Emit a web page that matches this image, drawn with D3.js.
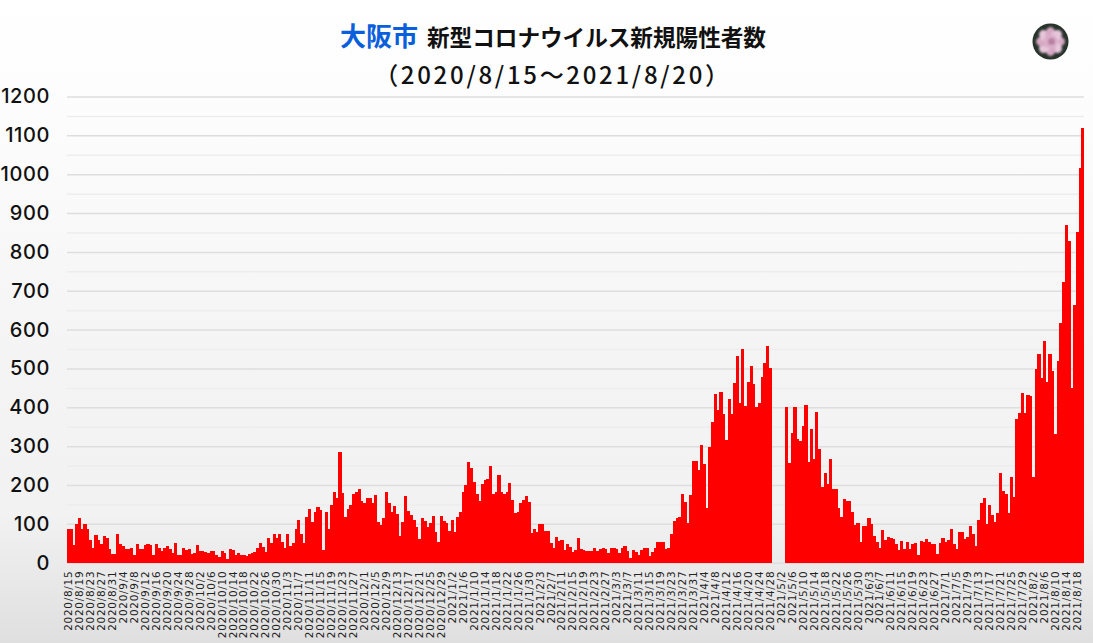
<!DOCTYPE html>
<html>
<head>
<meta charset="utf-8">
<script src="https://cdn.jsdelivr.net/npm/d3@7"></script>
<style>
    html, body { margin: 0; padding: 0; }
    body { width: 1093px; height: 643px; overflow: hidden;
           background: linear-gradient(#ffffff 0%, #fcfcfc 20%, #f4f4f5 55%, #f2f2f3 80%, #dfdfdf 100%); }
    svg { display: block; }
</style>
</head>
<body>
<svg width="1093" height="643"></svg>
<script>
const titleCity = "大阪市";
const titleMain = "新型コロナウイルス新規陽性者数";
const titleRange = "（2020/8/15～2021/8/20）";

const startDate = new Date(2020, 7, 15);
const endDate = new Date(2021, 7, 21);
const days = d3.timeDay.range(startDate, endDate);
const yTicks = d3.range(0, 1201, 100);
const yMinorTicks = d3.range(50, 1200, 100);
const petalAngles = d3.range(0, 360, 45);

// new positive cases per day, 10 values per row, starting 2020/8/15
const cases = [
    86, 86, 45, 100, 114, 86, 99, 86, 58, 37,
    72, 58, 47, 68, 63, 34, 22, 22, 75, 47,
    43, 36, 35, 37, 19, 47, 34, 34, 45, 47,
    46, 19, 47, 39, 30, 37, 44, 34, 24, 50,
    19, 19, 37, 33, 34, 22, 25, 45, 29, 31,
    27, 24, 29, 29, 20, 15, 29, 26, 10, 36,
    33, 19, 24, 21, 21, 16, 22, 24, 27, 37,
    50, 41, 27, 63, 50, 73, 63, 73, 52, 37,
    73, 44, 51, 86, 111, 75, 50, 117, 137, 106,
    131, 144, 136, 33, 130, 86, 148, 181, 166, 284,
    180, 117, 137, 148, 176, 182, 189, 159, 153, 166,
    166, 154, 173, 105, 97, 115, 181, 154, 131, 146,
    125, 69, 105, 172, 134, 124, 110, 91, 60, 114,
    108, 91, 101, 120, 80, 52, 120, 108, 101, 82,
    111, 79, 117, 131, 183, 200, 258, 243, 208, 178,
    159, 202, 214, 216, 249, 176, 183, 226, 183, 178,
    183, 204, 161, 127, 131, 154, 161, 172, 157, 77,
    86, 80, 99, 99, 82, 82, 50, 37, 67, 56,
    59, 32, 47, 41, 27, 33, 63, 34, 32, 30,
    29, 29, 39, 31, 36, 39, 35, 26, 38, 39,
    36, 26, 37, 44, 31, 13, 32, 28, 19, 33,
    39, 37, 18, 28, 39, 52, 52, 52, 36, 39,
    73, 108, 115, 118, 178, 157, 103, 173, 262, 263,
    238, 302, 253, 141, 297, 361, 433, 393, 440, 382,
    315, 421, 382, 462, 533, 410, 550, 404, 466, 506,
    460, 400, 410, 478, 513, 558, 501, 0, 0, 0,
    0, 0, 401, 256, 333, 401, 318, 313, 352, 407,
    258, 343, 266, 387, 292, 194, 230, 202, 266, 189,
    189, 142, 117, 163, 160, 160, 131, 97, 101, 52,
    94, 94, 114, 99, 69, 54, 39, 83, 59, 67,
    63, 60, 48, 32, 57, 35, 52, 34, 48, 50,
    19, 57, 52, 60, 52, 47, 48, 22, 51, 63,
    52, 58, 88, 48, 34, 78, 78, 60, 67, 95,
    75, 43, 111, 153, 166, 99, 148, 122, 104, 127,
    230, 184, 176, 127, 220, 169, 369, 386, 438, 386,
    431, 429, 220, 498, 537, 475, 571, 464, 537, 494,
    330, 520, 616, 722, 869, 829, 450, 663, 850, 1017,
    1120
];

const svg = d3.select("svg");

const x = d3.scaleBand()
    .domain(days)
    .range([67, 1084]);

const y = d3.scaleLinear()
    .domain([0, 1200])
    .range([562.7, 96.5]);

// minor gridlines at the 50s
svg.append("g")
    .attr("transform", "translate(67,0)")
    .call(d3.axisLeft(y).tickValues(yMinorTicks).tickSize(-1017).tickFormat(""))
    .call(g => g.select(".domain").remove())
    .call(g => g.selectAll("line").attr("stroke", "#ededed").attr("stroke-width", 1.5));

// major gridlines and labels
svg.append("g")
    .attr("transform", "translate(67,0)")
    .call(d3.axisLeft(y).tickValues(yTicks).tickSize(-1017).tickPadding(17).tickFormat(d3.format("d")))
    .call(g => g.select(".domain").remove())
    .call(g => g.selectAll("line").attr("stroke", "#dedede").attr("stroke-width", 1.5))
    .call(g => g.selectAll("text")
        .attr("fill", "#111")
        .style("font-family", "Inter")
        .style("font-weight", 500)
        .style("font-size", "20px")
        .style("letter-spacing", "0.6px"));

svg.append("g")
    .selectAll("rect")
    .data(days)
    .enter()
    .append("rect")
    .attr("x", d => x(d))
    .attr("y", (d, i) => y(cases[i]))
    .attr("width", x.bandwidth() + 0.4)
    .attr("height", (d, i) => y(0) - y(cases[i]))
    .attr("fill", "#ff0000")
    .attr("shape-rendering", "crispEdges");

// a date label on every 4th day
const labelDays = days.filter((d, i) => i % 4 === 0);
const labelFormat = d => `${d.getFullYear()}/${d.getMonth() + 1}/${d.getDate()}`;

svg.append("g")
    .attr("transform", `translate(0,${y(0)})`)
    .call(d3.axisBottom(x).tickValues(labelDays).tickSize(0).tickFormat(labelFormat))
    .call(g => g.select(".domain").remove())
    .call(g => g.selectAll("text")
        .attr("fill", "#222")
        .attr("text-anchor", "end")
        .attr("dy", "0.35em")
        .attr("x", -8)
        .attr("y", 0)
        .attr("transform", "rotate(-90)")
        .style("font-family", "DejaVu Sans")
        .style("font-size", "10.5px")
        .style("letter-spacing", "0.7px"));

// title
const title = svg.append("text")
    .attr("x", 340)
    .attr("y", 46)
    .style("font-family", "Noto Sans CJK JP");
title.append("tspan")
    .attr("fill", "#0b5fdc")
    .style("font-size", "26px")
    .style("font-weight", 700)
    .text(titleCity);
title.append("tspan")
    .attr("dx", 9)
    .attr("fill", "#111")
    .style("font-size", "22.6px")
    .style("font-weight", 700)
    .text(titleMain);

svg.append("text")
    .attr("x", 553)
    .attr("y", 84)
    .attr("text-anchor", "middle")
    .attr("fill", "#111")
    .style("font-family", "Noto Sans CJK JP")
    .style("font-weight", 500)
    .style("font-size", "24px")
    .style("letter-spacing", "2.7px")
    .text(titleRange);

// round flower icon
const defs = svg.append("defs");
defs.append("filter").attr("id", "soft")
    .append("feGaussianBlur").attr("stdDeviation", 0.8);

const icon = svg.append("g").attr("transform", "translate(1050.5,41.5)");
icon.append("circle").attr("r", 18).attr("fill", "#27332b");
const flower = icon.append("g").attr("filter", "url(#soft)");
flower.selectAll("ellipse")
    .data(petalAngles)
    .enter()
    .append("ellipse")
    .attr("cx", 8)
    .attr("rx", 6.5)
    .attr("ry", 5)
    .attr("transform", d => `rotate(${d})`)
    .attr("fill", (d, i) => i % 2 ? "#e6c6da" : "#d7a8c4");
flower.append("circle").attr("r", 7).attr("fill", "#d9aec8");
flower.append("circle").attr("r", 3.5).attr("cx", 1).attr("fill", "#b97fa2");
</script>
</body>
</html>
